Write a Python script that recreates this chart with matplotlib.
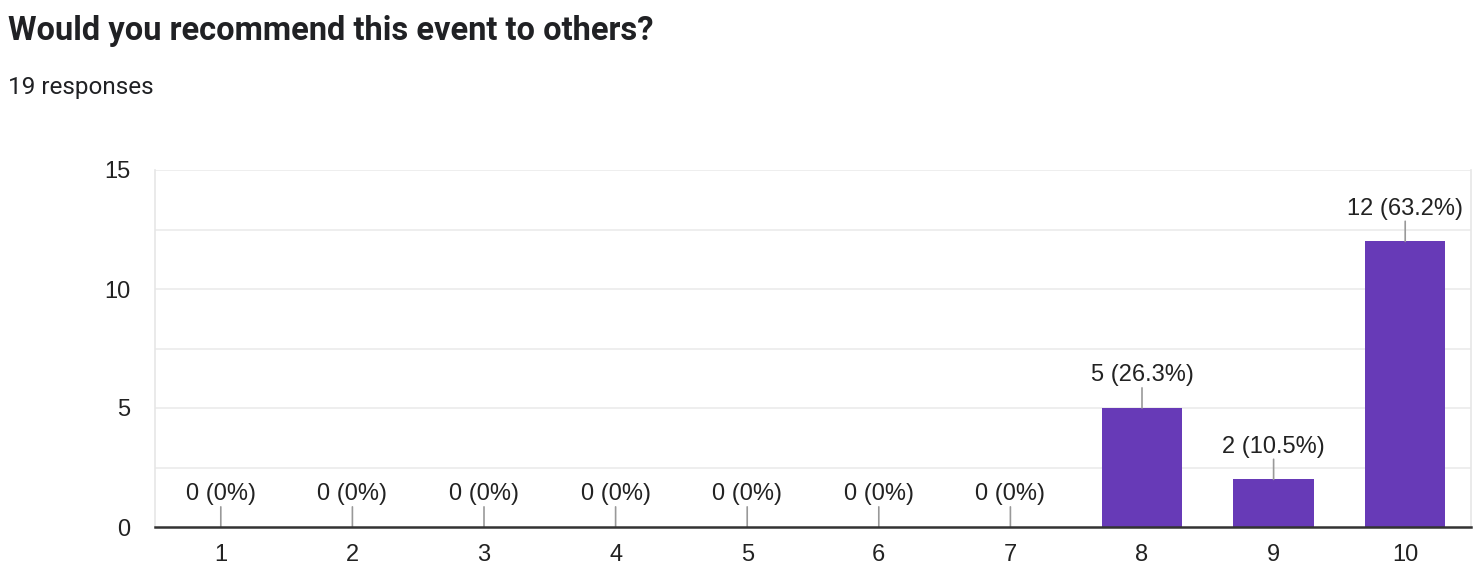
import matplotlib
matplotlib.use("Agg")
import matplotlib.pyplot as plt

categories = ["1", "2", "3", "4", "5", "6", "7", "8", "9", "10"]
counts = [0, 0, 0, 0, 0, 0, 0, 5, 2, 12]
labels = ["0 (0%)", "0 (0%)", "0 (0%)", "0 (0%)", "0 (0%)", "0 (0%)", "0 (0%)",
          "5 (26.3%)", "2 (10.5%)", "12 (63.2%)"]
yticks = [0, 5, 10, 15]
title = "Would you recommend this event to others?"
subtitle = "19 responses"

fig = plt.figure(figsize=(14.8, 5.77), dpi=100)
ax = fig.add_axes([155/1480, 50/577, 1316/1480, 357/577])

x = list(range(len(categories)))
ax.bar(x, counts, width=0.61, color="#673ab7", zorder=3)
ax.set_xlim(-0.5, len(categories) - 0.5)
ax.set_ylim(0, 15)

for g in [2.5, 5, 7.5, 10, 12.5, 15]:
    ax.axhline(g, color="#ebebeb", lw=1.2, zorder=1)

ax.set_yticks(yticks)
ax.set_yticklabels([str(t) for t in yticks])
ax.set_xticks(x)
ax.set_xticklabels(categories)
ax.tick_params(axis="both", length=0, labelsize=17, labelcolor="#222222")
ax.tick_params(axis="y", pad=18)
ax.tick_params(axis="x", pad=12)
for lab in ax.get_xticklabels() + ax.get_yticklabels():
    lab.set_fontfamily("Liberation Sans")

ax.spines["top"].set_visible(False)
ax.spines["left"].set_color("#e6e6e6")
ax.spines["right"].set_color("#e6e6e6")
ax.spines["left"].set_linewidth(1.2)
ax.spines["right"].set_linewidth(1.2)
ax.spines["bottom"].set_color("#333333")
ax.spines["bottom"].set_linewidth(1.8)
ax.spines["bottom"].set_zorder(5)

for xi, v, lab in zip(x, counts, labels):
    ax.annotate("", xy=(xi, v), xytext=(0, 14.5), textcoords="offset points",
                arrowprops=dict(arrowstyle="-", color="#999999", lw=1.2,
                                shrinkA=0, shrinkB=0), zorder=4)
    ax.annotate(lab, xy=(xi, v), xytext=(0, 15.5), textcoords="offset points",
                ha="center", va="bottom", fontsize=17, color="#222222",
                family="Liberation Sans", zorder=4)

fig.text(8/1480, 1 - 31/577, title, fontsize=23.5, fontweight="bold",
         family="Roboto", color="#202124", va="center", ha="left")
fig.text(8/1480, 1 - 87/577, subtitle, fontsize=17.5,
         family="Roboto", color="#202124", va="center", ha="left")

fig.savefig("out.png", dpi=100)
